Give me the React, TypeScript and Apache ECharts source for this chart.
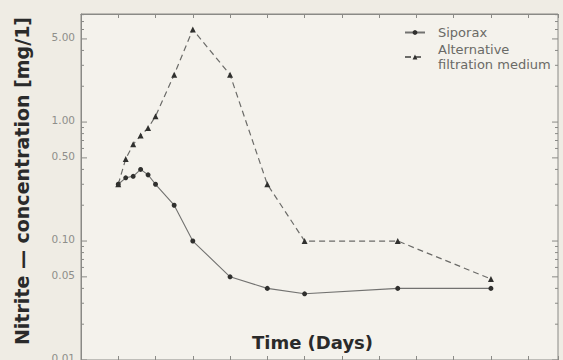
import React, { useEffect, useRef } from "react";
import * as echarts from "echarts";

const days = [0, 0.2, 0.4, 0.6, 0.8, 1, 1.5, 2, 3, 4, 5, 7.5, 10];
const siporax = [0.3, 0.34, 0.35, 0.4, 0.36, 0.3, 0.2, 0.1, 0.05, 0.04, 0.036, 0.04, 0.04];
const alternative = [0.3, 0.49, 0.65, 0.77, 0.89, 1.12, 2.5, 6.0, 2.5, 0.3, 0.1, 0.1, 0.048];

const yLabelValues = [5, 1, 0.5, 0.1, 0.05, 0.01];
const yTickLabels = ["5.00", "1.00", "0.50", "0.10", "0.05", "0.01"];
const yDecades = [0.01, 0.1, 1];
const yMinorSteps = [2, 3, 4, 6, 7, 8, 9];

const X_MIN = -1;
const X_MAX = 11.8;
const Y_MIN = 0.01;
const Y_MAX = 8.1;

const SIPORAX = "Siporax";
const ALT = "Alternative\nfiltration medium";

export default function App() {
  const ref = useRef<HTMLDivElement>(null);
  useEffect(() => {
    if (!ref.current) return;
    const chart = echarts.init(ref.current, undefined, { renderer: "svg" });

    const tickData: any[] = [];
    yLabelValues.forEach((v, i) => tickData.push([X_MIN, v, 1, yTickLabels[i]]));
    yDecades.forEach((d) =>
      yMinorSteps.forEach((m) => {
        const v = d * m;
        if (v <= Y_MAX && !yLabelValues.some((l) => Math.abs(l - v) < 1e-9)) tickData.push([X_MIN, v, 0, ""]);
      })
    );

    const axisColor = "#8a8a86";

    const option: any = {
      animation: false,
      backgroundColor: "#efece4",
      grid: {
        left: 81,
        top: 14,
        width: 477,
        height: 352,
        show: true,
        backgroundColor: "#f4f2ec",
        borderColor: axisColor,
        borderWidth: 1,
      },
      legend: {
        data: [SIPORAX, ALT],
        orient: "vertical",
        left: 399,
        top: 20,
        itemWidth: 20,
        itemHeight: 6,
        itemGap: 2,
        textStyle: {
          fontFamily: "DejaVu Sans",
          fontSize: 13,
          color: "#6a6a66",
          lineHeight: 15,
          padding: [0, 0, 0, 8],
        },
      },
      xAxis: [
        {
          type: "value",
          min: X_MIN,
          max: X_MAX,
          interval: 1,
          position: "bottom",
          name: "Time (Days)",
          nameLocation: "middle",
          nameGap: -27,
          nameTextStyle: {
            fontFamily: "DejaVu Sans",
            fontWeight: "bold",
            fontSize: 18,
            color: "#2a2a2a",
            padding: [0, 14, 0, 0],
          },
          axisLine: { show: true, onZero: false, lineStyle: { color: axisColor } },
          axisTick: { show: true, inside: true, length: 4, lineStyle: { color: axisColor } },
          axisLabel: { show: false },
          splitLine: { show: false },
        },
        {
          type: "value",
          min: X_MIN,
          max: X_MAX,
          interval: 1,
          position: "top",
          axisLine: { show: true, onZero: false, lineStyle: { color: axisColor } },
          axisTick: { show: true, inside: true, length: 4, lineStyle: { color: axisColor } },
          axisLabel: { show: false },
          splitLine: { show: false },
        },
      ],
      yAxis: [
        {
          type: "log",
          logBase: 10,
          min: Y_MIN,
          max: Y_MAX,
          name: "Nitrite \u2014 concentration [mg/1]",
          nameLocation: "middle",
          nameGap: 50,
          nameRotate: 90,
          nameTextStyle: {
            fontFamily: "DejaVu Sans",
            fontWeight: "bold",
            fontSize: 19,
            color: "#2a2a2a",
            padding: [0, 0, 0, 12],
          },
          axisLine: { show: true, onZero: false, lineStyle: { color: axisColor } },
          axisTick: { show: false },
          axisLabel: { show: false },
          splitLine: { show: false },
        },
      ],
      series: [
        {
          name: SIPORAX,
          type: "line",
          data: days.map((d, i) => [d, siporax[i]]),
          symbol: "circle",
          symbolSize: 5,
          itemStyle: { color: "#30302e" },
          lineStyle: { color: "#727270", width: 1.1, type: "solid" },
          z: 3,
        },
        {
          name: ALT,
          type: "line",
          data: days.map((d, i) => [d, alternative[i]]),
          symbol: "triangle",
          symbolSize: 6,
          itemStyle: { color: "#30302e" },
          lineStyle: { color: "#6b6b68", width: 1.2, type: [6, 4] },
          z: 3,
        },
        {
          name: "yTicks",
          type: "custom",
          clip: false,
          silent: true,
          data: tickData,
          renderItem: (params: any, api: any) => {
            const v = api.value(1);
            const major = api.value(2) === 1;
            const label = tickData[params.dataIndex][3];
            const pl = api.coord([X_MIN, v]);
            const pr = api.coord([X_MAX, v]);
            const len = major ? 6 : 3;
            const children: any[] = [
              { type: "line", shape: { x1: pl[0], y1: pl[1], x2: pl[0] + len, y2: pl[1] }, style: { stroke: axisColor, lineWidth: 1 } },
              { type: "line", shape: { x1: pr[0] - len, y1: pr[1], x2: pr[0], y2: pr[1] }, style: { stroke: axisColor, lineWidth: 1 } },
            ];
            if (label) {
              children.push({
                type: "text",
                style: {
                  text: label,
                  x: pl[0] - 6,
                  y: pl[1] - 2,
                  align: "right",
                  verticalAlign: "middle",
                  fill: "#8e8e8a",
                  fontSize: 10.5,
                  fontFamily: "DejaVu Sans",
                },
              });
            }
            return { type: "group", children };
          },
          z: 2,
        },
      ],
    };
    chart.setOption(option);
    return () => chart.dispose();
  }, []);
  return <div ref={ref} style={{ position: "fixed", left: 0, top: 0, width: 563, height: 360 }} />;
}
